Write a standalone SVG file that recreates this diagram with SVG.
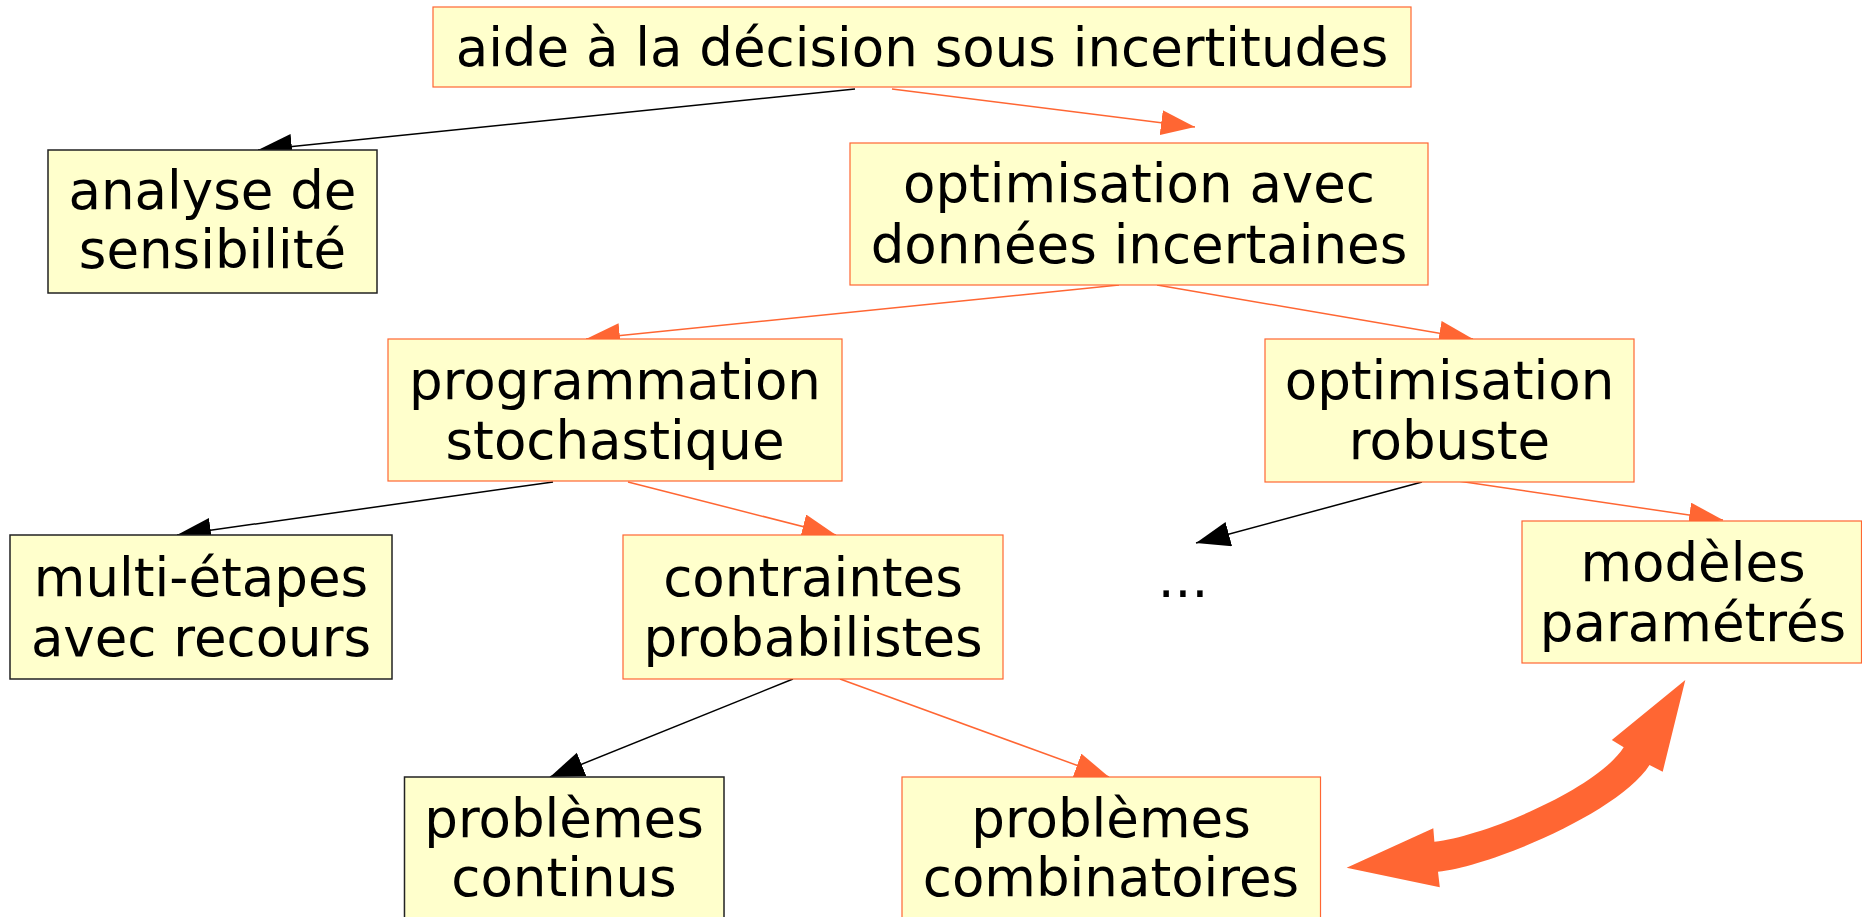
<svg xmlns="http://www.w3.org/2000/svg" width="1862" height="917" viewBox="0 0 1862 917">
<style>
.box{fill:#FFFFCC;stroke:#FF6633;stroke-width:1.2}
.boxk{fill:#FFFFCC;stroke:#222;stroke-width:1.5}
.t{font-family:"DejaVu Sans","Liberation Sans",sans-serif;font-size:53px;fill:#000;text-anchor:middle}
.lo{stroke:#FF6633;stroke-width:1.5;fill:none}
.lk{stroke:#000;stroke-width:1.5;fill:none}
</style>
<defs>
<marker id="ao" markerUnits="userSpaceOnUse" markerWidth="36" markerHeight="26" refX="34" refY="12.5" orient="auto" viewBox="0 0 36 26">
<path d="M0,0 L34,12.5 L0,25 z" fill="#FF6633"/>
</marker>
<marker id="ak" markerUnits="userSpaceOnUse" markerWidth="36" markerHeight="26" refX="34" refY="12.5" orient="auto" viewBox="0 0 36 26">
<path d="M0,0 L34,12.5 L0,25 z" fill="#000"/>
</marker>
</defs>
<rect width="1862" height="917" fill="#fff"/>
<g id="connectors">
<line class="lk" x1="855" y1="89" x2="258" y2="150" marker-end="url(#ak)"/>
<line class="lo" x1="892" y1="89" x2="1195" y2="127" marker-end="url(#ao)"/>
<line class="lo" x1="1119" y1="285" x2="586" y2="339" marker-end="url(#ao)"/>
<line class="lo" x1="1157" y1="285" x2="1473" y2="339" marker-end="url(#ao)"/>
<line class="lk" x1="553" y1="482" x2="177" y2="535" marker-end="url(#ak)"/>
<line class="lo" x1="628" y1="482" x2="836" y2="535" marker-end="url(#ao)"/>
<line class="lk" x1="793" y1="679" x2="550" y2="777" marker-end="url(#ak)"/>
<line class="lo" x1="840" y1="679" x2="1109" y2="777" marker-end="url(#ao)"/>
<line class="lk" x1="1422" y1="482" x2="1196" y2="543" marker-end="url(#ak)"/>
<line class="lo" x1="1458" y1="481" x2="1723" y2="520" marker-end="url(#ao)"/>
<path id="double-arrow" fill="#FF6633" d="M1346.6,867.7 L1433.3,828.3 L1434.4,841.7 C1484.4,836.2 1597,789 1623.7,747.3 L1611.8,740 L1685.3,680 L1662.7,771.7 L1649.5,765 C1620.1,811.5 1493,865.7 1438,871.7 L1439.8,887.3 Z"/>
</g>
<g id="n-top"><rect class="box" x="433" y="7" width="978" height="80"/><text class="t" x="922" y="66">aide à la décision sous incertitudes</text></g>
<g id="n-analyse"><rect class="boxk" x="48" y="150" width="329" height="143"/><text class="t" x="212.5" y="209">analyse de</text><text class="t" x="212.5" y="268">sensibilité</text></g>
<g id="n-optim"><rect class="box" x="850" y="143" width="578" height="142"/><text class="t" x="1139" y="202">optimisation avec</text><text class="t" x="1139" y="263">données incertaines</text></g>
<g id="n-prog"><rect class="box" x="388" y="339" width="454" height="142"/><text class="t" x="615" y="398.5">programmation</text><text class="t" x="615" y="458.5">stochastique</text></g>
<g id="n-robuste"><rect class="box" x="1265" y="339" width="369" height="143"/><text class="t" x="1449.5" y="399">optimisation</text><text class="t" x="1449.5" y="459">robuste</text></g>
<g id="n-multi"><rect class="boxk" x="10" y="535" width="382" height="144"/><text class="t" x="201" y="595.5">multi-étapes</text><text class="t" x="201" y="655.5">avec recours</text></g>
<g id="n-contraintes"><rect class="box" x="623" y="535" width="380" height="144"/><text class="t" x="813" y="595.5">contraintes</text><text class="t" x="813" y="655.5">probabilistes</text></g>
<g id="n-dots"><text class="t" x="1183" y="597">...</text></g>
<g id="n-modeles"><rect class="box" x="1522" y="521" width="339.5" height="142"/><text class="t" x="1693" y="580.5">modèles</text><text class="t" x="1693" y="640.5">paramétrés</text></g>
<g id="n-continus"><rect class="boxk" x="404.5" y="777" width="319.5" height="160"/><text class="t" x="564" y="837">problèmes</text><text class="t" x="564" y="896">continus</text></g>
<g id="n-combi"><rect class="box" x="902" y="777" width="418.5" height="160"/><text class="t" x="1111" y="837">problèmes</text><text class="t" x="1111" y="896">combinatoires</text></g>
</svg>
